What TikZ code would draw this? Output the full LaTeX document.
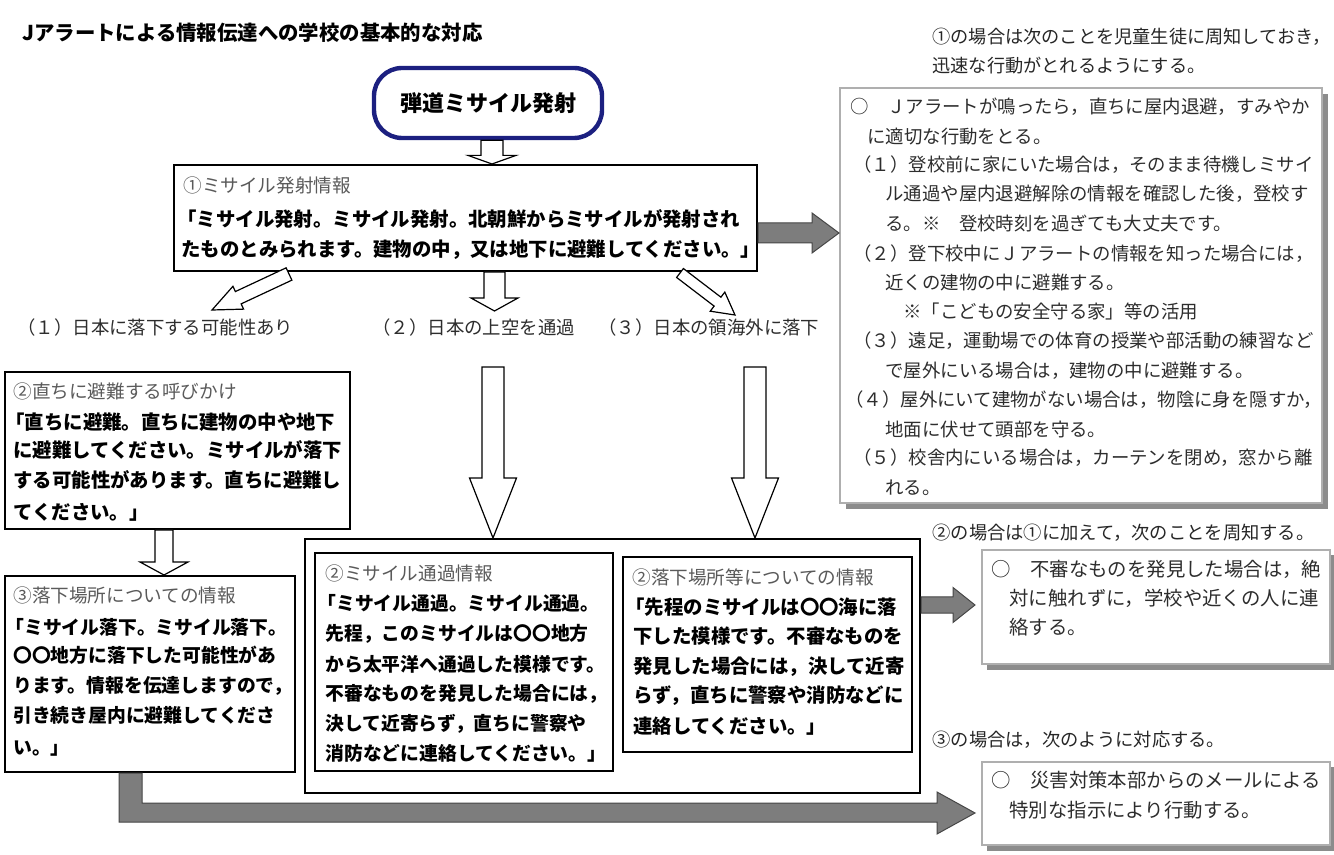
\documentclass[tikz,border=0pt]{standalone}
\usepackage{fontspec}
\setmainfont{Noto Sans CJK JP}
\usetikzlibrary{calc,fit}
\definecolor{navy}{RGB}{28,32,128}
\definecolor{txt}{RGB}{45,45,45}
\definecolor{ttl}{RGB}{90,90,90}
\definecolor{arrgray}{RGB}{125,125,125}
\definecolor{arrline}{RGB}{70,70,70}
\definecolor{shd}{RGB}{140,140,140}
\definecolor{bdr}{RGB}{175,175,175}
\tikzset{
 ln/.style={anchor=west, inner sep=0pt, font=\fontsize{#1pt}{#1pt}\selectfont, text height=0.88*#1pt, text depth=0.12*#1pt, text=txt},
 lnb/.style={ln=#1, font=\fontsize{#1pt}{#1pt}\selectfont\bfseries, text=black},
 lnt/.style={ln=#1, text=ttl},
 lnh/.style={ln=#1, text=black!85},
 box/.style={draw=black, line width=1pt, inner sep=0pt, fill=white},
 rbox/.style={draw=bdr, line width=1pt, inner sep=0pt, fill=white},
 shadowbox/.style={fill=shd, inner sep=0pt},
 hollow/.style={draw=black, fill=white, line width=0.6pt, line join=miter},
 grayarrow/.style={draw=arrline, fill=arrgray, line width=0.5pt, line join=miter},
}
% block arrow: tail, tip, shaft half width, head half width, head length, style
\newcommand{\blockarrow}[6]{%
  \coordinate (ba-h) at ($(#2)!#5!(#1)$);
  \draw[#6] ($(#1)!#3!90:(#2)$) -- ($(ba-h)!#3!90:(#2)$) -- ($(ba-h)!#4!90:(#2)$) -- (#2)
    -- ($(ba-h)!#4!-90:(#2)$) -- ($(ba-h)!#3!-90:(#2)$) -- ($(#1)!#3!-90:(#2)$) -- cycle;
}
\begin{document}
\begin{tikzpicture}[x=0.5pt,y=-0.5pt]
\useasboundingbox[fill=white] (0,0) rectangle (1334,855);

% ---------- headings ----------
\node[lnb=10.2] (title) at (22,33) {Jアラートによる情報伝達への学校の基本的な対応};
\node[lnh=9.1] (hd1a) at (932,37) {①の場合は次のことを児童生徒に周知しておき，};
\node[lnh=9.1] (hd1b) at (932,66) {迅速な行動がとれるようにする。};

% ---------- missile ----------
\node[draw=navy, line width=2.2pt, rounded corners=14pt, minimum width=114pt, minimum height=35pt,
      font=\fontsize{11pt}{11pt}\selectfont\bfseries] (ms) at (488,103) {弾道ミサイル発射};

% ---------- box 1 ----------
\node[box, fit={(174,165)(757,271)}] (b1) {};
\node[lnt=9.3] (b1t) at (183,185) {①ミサイル発射情報};
\node[lnb=9.7] (b1l1) at (177,219) {「ミサイル発射。ミサイル発射。北朝鮮からミサイルが発射され};
\node[lnb=9.7] (b1l2) at (181,249) {たものとみられます。建物の中，又は地下に避難してください。」};

% branch labels
\node[ln=9.2] (lab1) at (17,328) {（１）日本に落下する可能性あり};
\node[ln=9.2] (lab2) at (372,328) {（２）日本の上空を通過};
\node[ln=9.2] (lab3) at (598,328) {（３）日本の領海外に落下};

% ---------- box 2 ----------
\node[box, fit={(5,372)(350,529)}] (b2) {};
\node[lnt=9.3] (b2t) at (13,391) {②直ちに避難する呼びかけ};
\node[lnb=9.7] (b2l1) at (5,422) {「直ちに避難。直ちに建物の中や地下};
\node[lnb=9.7] (b2l2) at (13,450) {に避難してください。ミサイルが落下};
\node[lnb=9.7] (b2l3) at (13,480) {する可能性があります。直ちに避難し};
\node[lnb=9.7] (b2l4) at (13,512) {てください。」};

% ---------- box 3 ----------
\node[box, fit={(5,576)(295,772)}] (b3) {};
\node[lnt=9.3] (b3t) at (13,595) {③落下場所についての情報};
\node[lnb=9.4] (b3l1) at (5,627) {「ミサイル落下。ミサイル落下。};
\node[lnb=9.4] (b3l2) at (13,655) {〇〇地方に落下した可能性があ};
\node[lnb=9.4] (b3l3) at (13,685) {ります。情報を伝達しますので，};
\node[lnb=9.4] (b3l4) at (13,715) {引き続き屋内に避難してくださ};
\node[lnb=9.4] (b3l5) at (13,747) {い。」};

% ---------- outer box with two inner boxes ----------
\node[box, fit={(305,539)(920,793)}] (bo) {};
\node[box, fit={(315,553)(613,771)}] (b4) {};
\node[lnt=9.3] (b4t) at (325,573) {②ミサイル通過情報};
\node[lnb=9.4] (b4l1) at (317,603) {「ミサイル通過。ミサイル通過。};
\node[lnb=9.4] (b4l2) at (325,633) {先程，このミサイルは〇〇地方};
\node[lnb=9.4] (b4l3) at (325,664) {から太平洋へ通過した模様です。};
\node[lnb=9.4] (b4l4) at (325,693) {不審なものを発見した場合には，};
\node[lnb=9.4] (b4l5) at (325,723) {決して近寄らず，直ちに警察や};
\node[lnb=9.4] (b4l6) at (325,753) {消防などに連絡してください。」};

\node[box, fit={(623,557)(912,752)}] (b5) {};
\node[lnt=9.3] (b5t) at (632,577) {②落下場所等についての情報};
\node[lnb=9.7] (b5l1) at (625,607) {「先程のミサイルは〇〇海に落};
\node[lnb=9.7] (b5l2) at (633,636) {下した模様です。不審なものを};
\node[lnb=9.7] (b5l3) at (633,666) {発見した場合には，決して近寄};
\node[lnb=9.7] (b5l4) at (633,695) {らず，直ちに警察や消防などに};
\node[lnb=9.7] (b5l5) at (633,726) {連絡してください。」};

% ---------- right big box ----------
\node[shadowbox, fit={(846,94)(1328,509)}] (r1s) {};
\node[rbox, fit={(840,88)(1322,503)}] (r1) {};
\node[ln=9.2] (r1l1) at (850,107) {○　Ｊアラートが鳴ったら，直ちに屋内退避，すみやか};
\node[ln=9.2] (r1l2) at (867,137) {に適切な行動をとる。};
\node[ln=9.2] (r1l3) at (853,165) {（１）登校前に家にいた場合は，そのまま待機しミサイ};
\node[ln=9.2] (r1l4) at (885,194) {ル通過や屋内退避解除の情報を確認した後，登校す};
\node[ln=9.2] (r1l5) at (885,224) {る。※　登校時刻を過ぎても大丈夫です。};
\node[ln=9.2] (r1l6) at (853,254) {（２）登下校中にＪアラートの情報を知った場合には，};
\node[ln=9.2] (r1l7) at (885,283) {近くの建物の中に避難する。};
\node[ln=9.2] (r1l8) at (903,312) {※「こどもの安全守る家」等の活用};
\node[ln=9.2] (r1l9) at (853,341) {（３）遠足，運動場での体育の授業や部活動の練習など};
\node[ln=9.2] (r1l10) at (885,371) {で屋外にいる場合は，建物の中に避難する。};
\node[ln=9.2] (r1l11) at (845,400) {（４）屋外にいて建物がない場合は，物陰に身を隠すか，};
\node[ln=9.2] (r1l12) at (885,430) {地面に伏せて頭部を守る。};
\node[ln=9.2] (r1l13) at (853,458) {（５）校舎内にいる場合は，カーテンを閉め，窓から離};
\node[ln=9.2] (r1l14) at (885,488) {れる。};

% ---------- right small boxes ----------
\node[lnh=9.15] (hd2) at (932,533) {②の場合は①に加えて，次のことを周知する。};
\node[shadowbox, fit={(987,555)(1335,670)}] (r2s) {};
\node[rbox, fit={(982,550)(1330,664)}] (r2) {};
\node[ln=9.7] (r2l1) at (991,569) {○　不審なものを発見した場合は，絶};
\node[ln=9.7] (r2l2) at (1009,598) {対に触れずに，学校や近くの人に連};
\node[ln=9.7] (r2l3) at (1009,627) {絡する。};

\node[lnh=9.15] (hd3) at (932,740) {③の場合は，次のように対応する。};
\node[shadowbox, fit={(987,767)(1335,851)}] (r3s) {};
\node[rbox, fit={(982,762)(1330,845)}] (r3) {};
\node[ln=9.7] (r3l1) at (991,780) {○　災害対策本部からのメールによる};
\node[ln=9.7] (r3l2) at (1009,810) {特別な指示により行動する。};

% ---------- hollow arrows ----------
\coordinate (a1s) at (ms.south -| 492,0);
\coordinate (a1e) at (b1.north -| 492,0);
\blockarrow{a1s}{a1e}{5.5pt}{12pt}{4.3pt}{hollow}

\coordinate (a2s) at (289,274);
\coordinate (a2e) at (212,310);
\blockarrow{a2s}{a2e}{3.4pt}{6.3pt}{14.5pt}{hollow}

\coordinate (a3s) at (b1.south -| 494.5,0);
\coordinate (a3e) at (494.5,311);
\blockarrow{a3s}{a3e}{5.25pt}{11.75pt}{6.5pt}{hollow}

\coordinate (a4s) at (680,273);
\coordinate (a4e) at (735,315);
\blockarrow{a4s}{a4e}{2.8pt}{6pt}{11pt}{hollow}

\coordinate (a5s) at (493,367);
\coordinate (a5e) at (bo.north -| 493,0);
\blockarrow{a5s}{a5e}{5.5pt}{11.75pt}{30pt}{hollow}

\coordinate (a6s) at (755,367);
\coordinate (a6e) at (bo.north -| 755,0);
\blockarrow{a6s}{a6e}{5.5pt}{11.75pt}{30pt}{hollow}

\coordinate (a7s) at (b2.south -| 164,0);
\coordinate (a7e) at (b3.north -| 164,0);
\blockarrow{a7s}{a7e}{4.5pt}{12pt}{6.5pt}{hollow}

% ---------- gray arrows ----------
\coordinate (g1s) at (b1.east |- 0,233);
\coordinate (g1e) at (r1.west |- 0,233);
\blockarrow{g1s}{g1e}{5pt}{10pt}{13.5pt}{grayarrow}

\coordinate (g2s) at (bo.east |- 0,605);
\coordinate (g2e) at (975,605);
\blockarrow{g2s}{g2e}{4pt}{8.75pt}{11pt}{grayarrow}

\coordinate (g3s) at (b3.south -| 119,0);
\coordinate (g3e) at (975,813);
\draw[grayarrow] (g3s) -- ++(23,0) |- (937,803) -- (937,792) -- (g3e) -- (937,834) -- (937,822) -| cycle;
\end{tikzpicture}
\end{document}
